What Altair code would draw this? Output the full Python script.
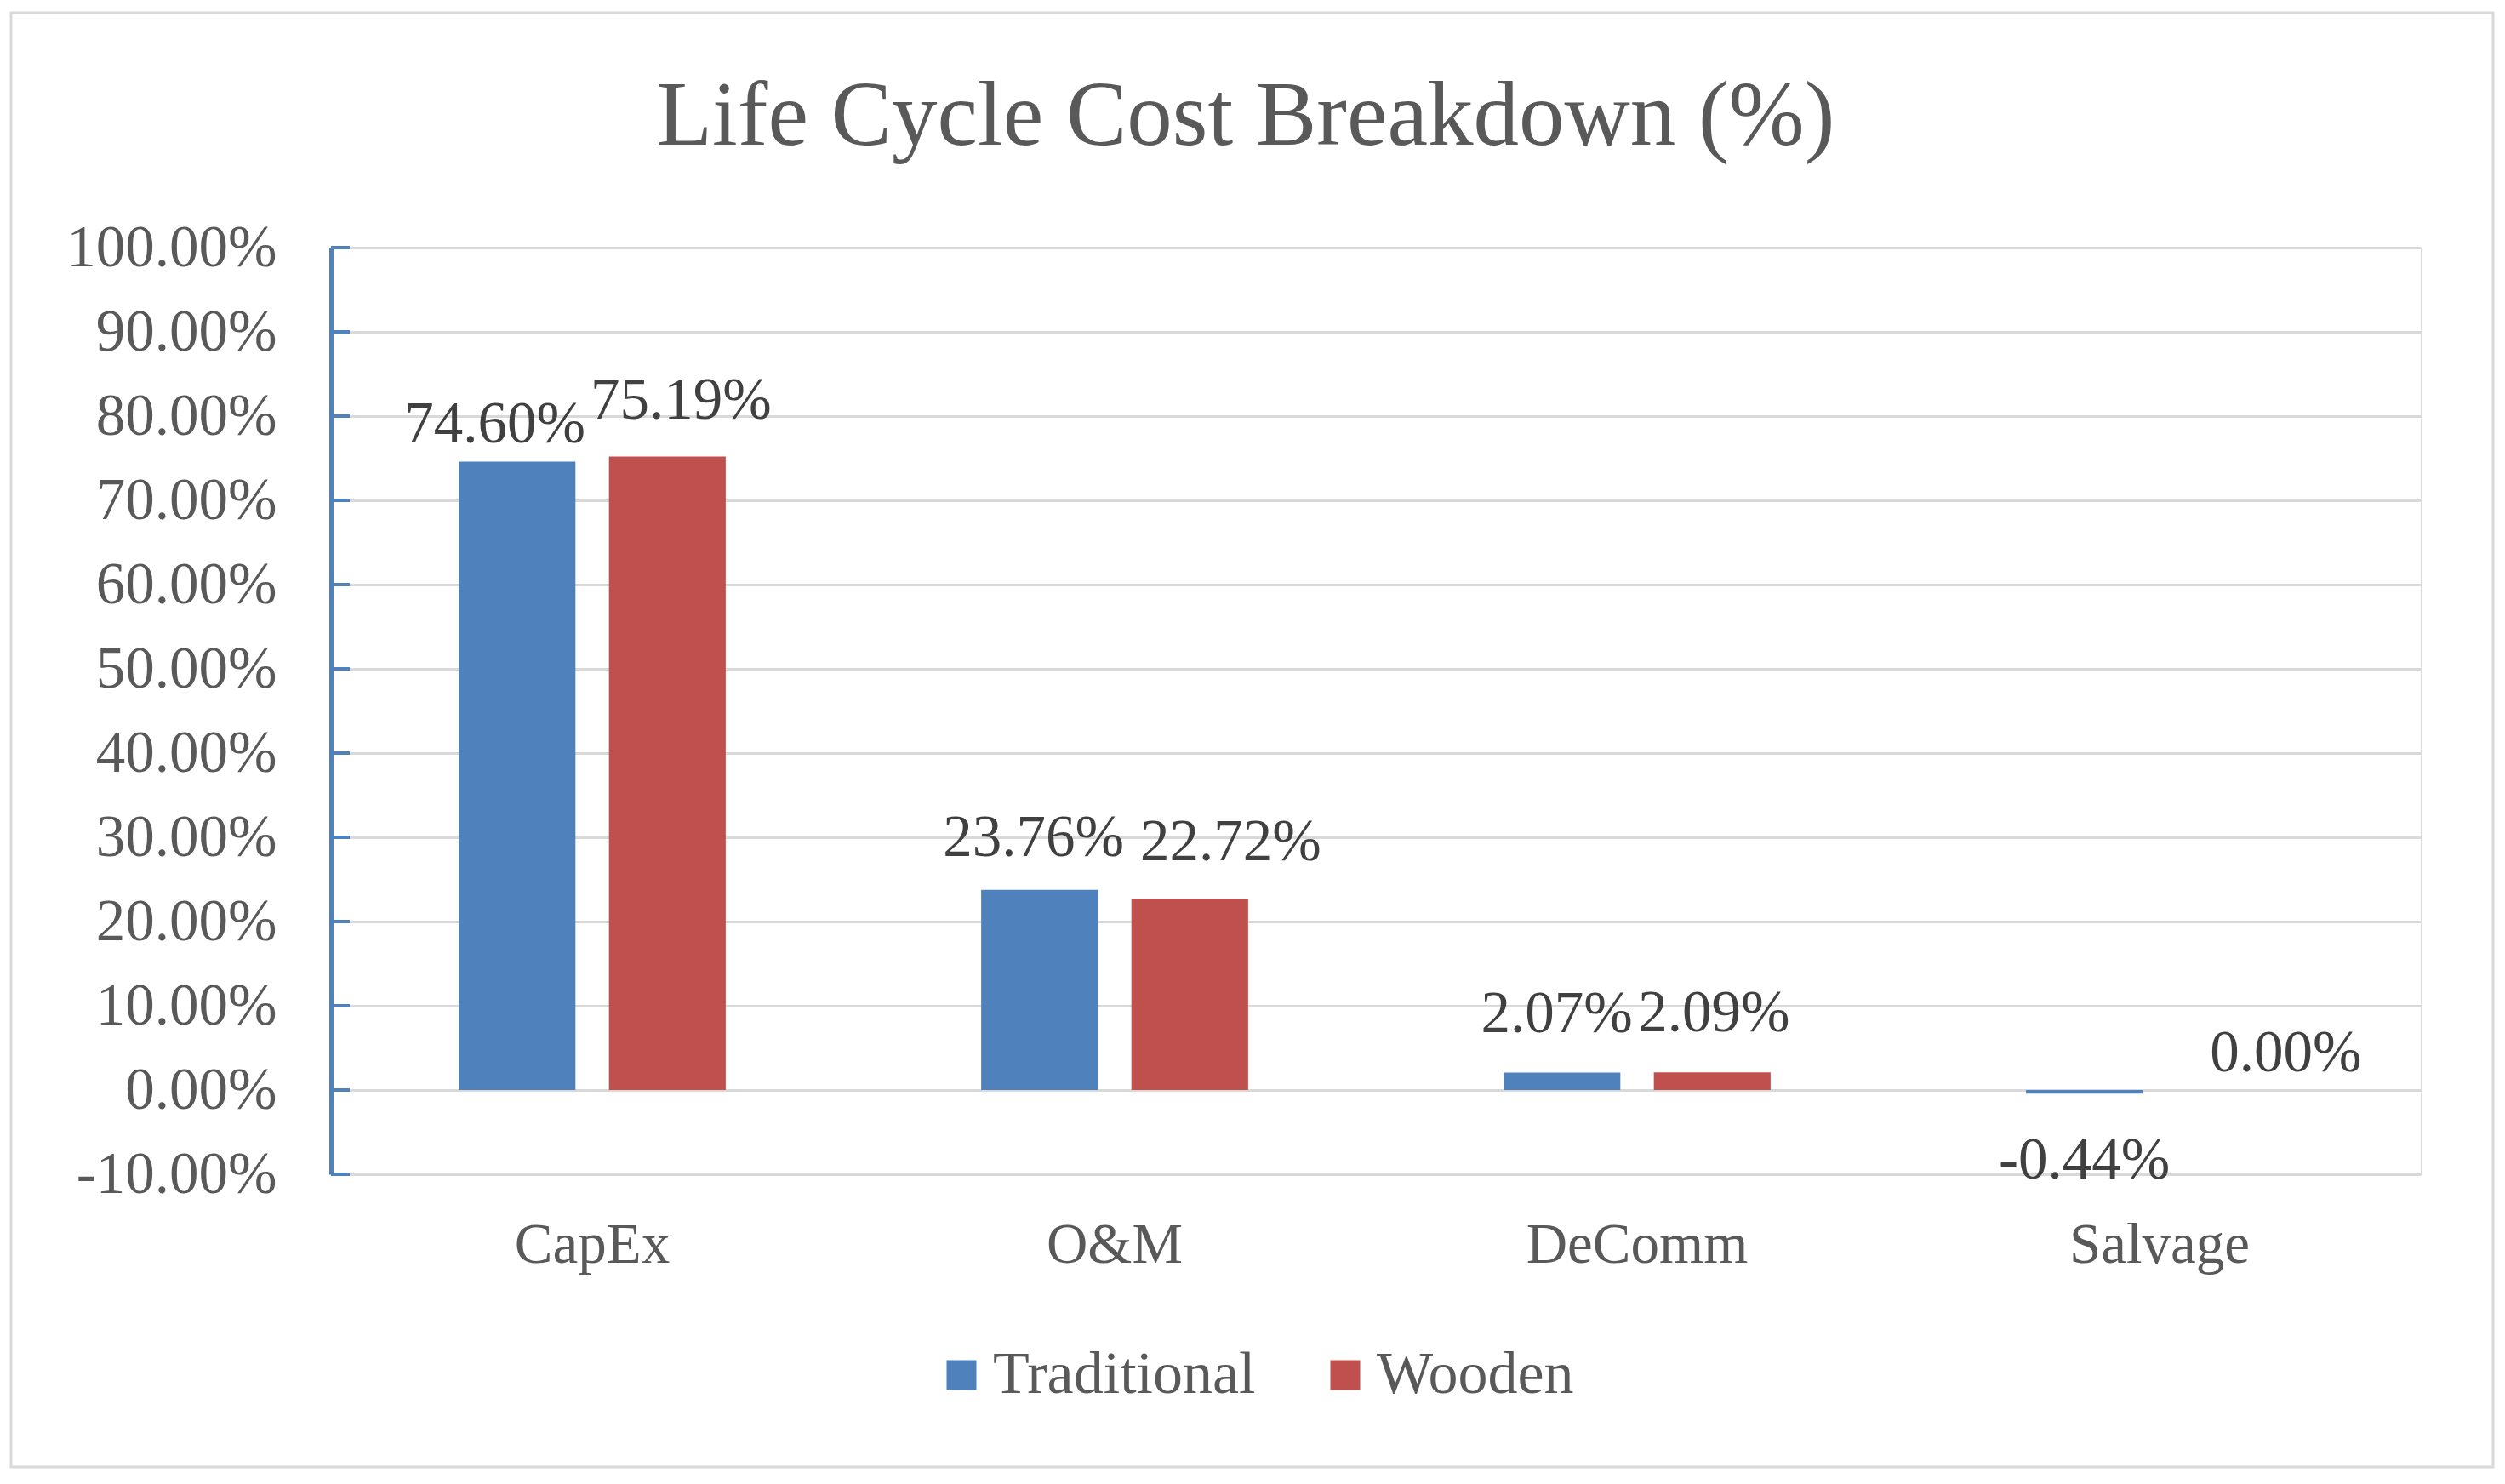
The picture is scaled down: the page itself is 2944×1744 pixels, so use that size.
import altair as alt
import pandas as pd

categories = ["CapEx", "O&M", "DeComm", "Salvage"]
series_names = ["Traditional", "Wooden"]
traditional = [0.7460, 0.2376, 0.0207, -0.0044]
wooden = [0.7519, 0.2272, 0.0209, 0.0000]
y_ticks = [-0.1, 0.0, 0.1, 0.2, 0.3, 0.4, 0.5, 0.6, 0.7, 0.8, 0.9, 1.0]
colors = ["#4F81BD", "#C0504D"]

rows = []
for c, t, w in zip(categories, traditional, wooden):
    rows.append({"category": c, "series": "Traditional", "value": t})
    rows.append({"category": c, "series": "Wooden", "value": w})
df = pd.DataFrame(rows)

FONT = "Liberation Serif"
W, H = 2456, 1089
MINUS_FIX = "replace(datum.label, '\u2212', '-')"

x_axis = alt.Axis(title=None, labelAngle=0, domain=False, ticks=False, grid=False,
                  labelPadding=50, labelFontSize=67, labelFont=FONT,
                  labelColor="#595959", labelBaseline="top", labelLimit=0)
y_axis = alt.Axis(title=None, values=y_ticks, format=".2%", labelExpr=MINUS_FIX,
                  domainColor="#4F81BD", domainWidth=5, ticks=False,
                  labelPadding=64, labelFontSize=69, labelFont=FONT,
                  labelColor="#595959", grid=True, gridColor="#D9D9D9",
                  gridWidth=3, labelLimit=0)
x_scale = alt.Scale(paddingInner=0.489, paddingOuter=0.2445)
xo_scale = alt.Scale(paddingInner=0.223, paddingOuter=0)
y_scale = alt.Scale(domain=[-0.1, 1.0], nice=False)

x_enc = alt.X("category:N", sort=categories, scale=x_scale, axis=x_axis)
xo_enc = alt.XOffset("series:N", sort=series_names, scale=xo_scale)

bars = alt.Chart(df).mark_bar().encode(
    x=x_enc,
    xOffset=xo_enc,
    y=alt.Y("value:Q", scale=y_scale, stack=None, axis=y_axis),
    y2=alt.datum(0),
    color=alt.Color("series:N", scale=alt.Scale(domain=series_names, range=colors),
                    legend=alt.Legend(title=None, orient="none", direction="horizontal",
                                      legendX=706, legendY=1290,
                                      symbolType="square", symbolSize=1225,
                                      symbolStrokeWidth=0, labelFontSize=70,
                                      labelFont=FONT, labelColor="#595959",
                                      labelOffset=2, columnPadding=70,
                                      labelLimit=0)),
)

# label nudges (dx, dy) per bar, styling only
label_style = [
    ("CapEx", "Traditional", -26, -22),
    ("CapEx", "Wooden", 16, -45),
    ("O&M", "Traditional", -7, -40),
    ("O&M", "Wooden", 48, -45),
    ("DeComm", "Traditional", -6, -48),
    ("DeComm", "Wooden", 2, -48),
    ("Salvage", "Traditional", 0, 100),
    ("Salvage", "Wooden", 60, -22),
]
texts = []
for c, s, dx, dy in label_style:
    texts.append(
        alt.Chart(df).transform_filter(
            f"datum.category == '{c}' && datum.series == '{s}'"
        ).transform_calculate(
            label="replace(format(datum.value, '.2%'), '\u2212', '-')"
        ).mark_text(font=FONT, fontSize=69, color="#404040", dx=dx, dy=dy,
                    baseline="alphabetic", align="center").encode(
            x=x_enc,
            xOffset=xo_enc,
            y=alt.Y("value:Q", scale=y_scale, axis=y_axis),
            text=alt.Text("label:N"),
        )
    )

tick_df = pd.DataFrame({"value": y_ticks})
tick_marks = alt.Chart(tick_df).mark_rule(color="#4F81BD", strokeWidth=4).encode(
    y=alt.Y("value:Q", scale=y_scale, axis=y_axis),
    x=alt.value(0),
    x2=alt.value(22),
)

border = alt.Chart(pd.DataFrame({"a": [0]})).mark_rect(
    fillOpacity=0, stroke="#D9D9D9", strokeWidth=3
).encode(
    x=alt.value(-376), x2=alt.value(2541), y=alt.value(-276), y2=alt.value(1433)
)

chart = alt.layer(bars, tick_marks, *texts, border).properties(
    width=W, height=H,
    title=alt.TitleParams(text="Life Cycle Cost Breakdown (%)", font=FONT,
                          fontSize=107, fontWeight="normal", color="#595959",
                          anchor="middle", frame="group", dx=-153,
                          baseline="alphabetic", offset=-263),
    autosize=alt.AutoSizeParams(type="none"),
    padding={"left": 381, "top": 283, "right": 89, "bottom": 348},
).configure_view(strokeWidth=0, stroke="transparent").configure(background="white")

chart.save("out.html", embed_options={"renderer": "svg", "actions": False})
